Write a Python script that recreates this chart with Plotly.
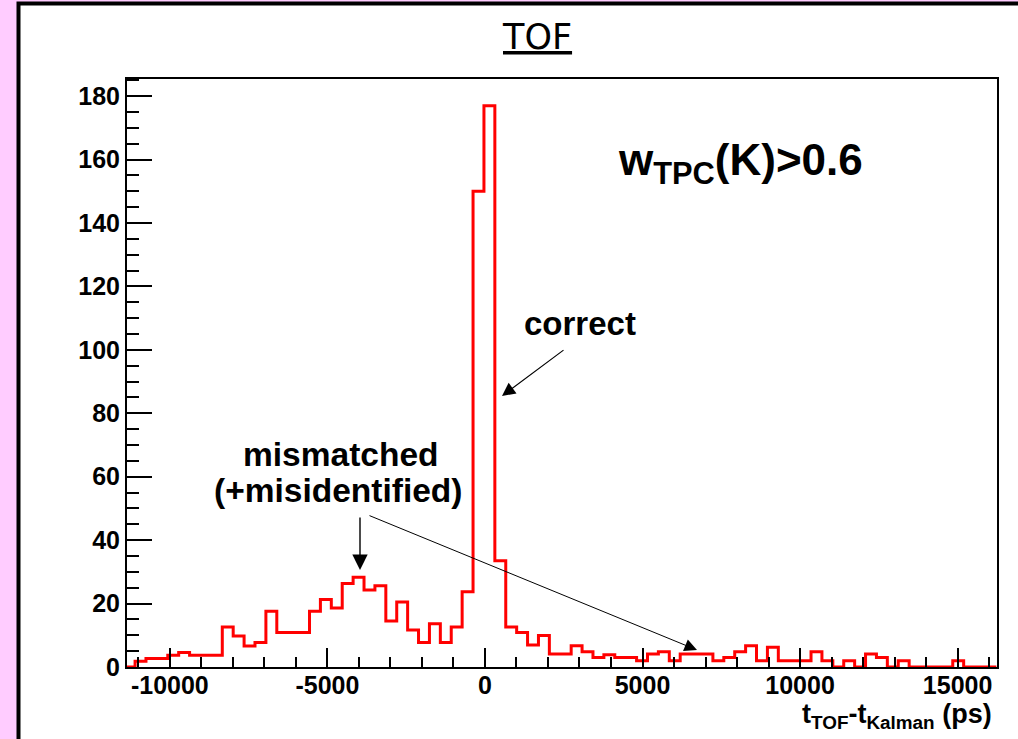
import plotly.graph_objects as go

# ---- data ----
counts = [0, 1.8, 2.7, 2.7, 3.7, 4.6, 3.7, 3.7, 3.7, 12.6,
          9.8, 6.6, 7.7, 17.6, 10.9, 10.9, 10.9, 17.6, 21.3, 18.6,
          26.3, 28.3, 24.3, 25.6, 14.5, 20.5, 11.7, 7.7, 13.6, 7.7,
          12.6, 23.7, 150, 177, 33.5, 12.6, 10.9, 6.9, 9.9, 4.1,
          4.1, 6.7, 4.8, 3.0, 3.9, 3.0, 3.0, 2.0, 4.1, 4.8,
          2.0, 4.1, 4.1, 4.1, 2.0, 3.0, 4.8, 6.7, 2.0, 6.2,
          2.0, 2.0, 2.0, 4.8, 2.0, 0, 2.0, 0, 4.1, 3.0,
          0, 2.0, 0, 0, 0, 0, 2.0, 0, 0, 0]
bin_start = -11450
bin_width = 346
x_ticks = [-10000, -5000, 0, 5000, 10000, 15000]
y_ticks = [0, 20, 40, 60, 80, 100, 120, 140, 160, 180]

edges = [bin_start + i * bin_width for i in range(len(counts) + 1)]
ys = counts + [counts[-1]]

W, H = 1018, 739
L, R, T, B = 127, 997, 79, 667


def px(xp):
    return (xp - L) / (R - L)


def py(yp):
    return (B - yp) / (B - T)


FONT = "Liberation Sans"

fig = go.Figure()
fig.add_trace(go.Scatter(x=edges, y=ys, mode="lines",
                         line=dict(color="#ff0000", width=3, shape="hv"),
                         hoverinfo="skip", showlegend=False))

fig.update_layout(
    width=W, height=H,
    margin=dict(l=L, r=W - R, t=T, b=H - B),
    paper_bgcolor="#ffccff",
    plot_bgcolor="rgba(0,0,0,0)",
    showlegend=False,
)

fig.update_xaxes(
    range=[-11360, 16250], tickvals=x_ticks, ticktext=[str(v) for v in x_ticks],
    ticks="inside", ticklen=19, tickwidth=1.5, tickcolor="black",
    minor=dict(dtick=1000, tick0=0, ticks="inside", ticklen=10, tickwidth=1.5, tickcolor="black"),
    showline=True, linecolor="black", linewidth=2, mirror=True,
    showgrid=False, zeroline=False, ticklabelstandoff=-5,
    tickfont=dict(family=FONT, size=25, color="black", weight="bold"),
)
fig.update_yaxes(
    range=[0, 185.4], tickvals=y_ticks, ticktext=[str(v) for v in y_ticks],
    ticks="inside", ticklen=25, tickwidth=1.5, tickcolor="black",
    minor=dict(dtick=5, tick0=0, ticks="inside", ticklen=12, tickwidth=1.5, tickcolor="black"),
    showline=True, linecolor="black", linewidth=2, mirror=True,
    showgrid=False, zeroline=False,
    tickfont=dict(family=FONT, size=25, color="black", weight="bold"),
)

# white slide panel with black frame
fig.add_shape(type="rect", xref="paper", yref="paper",
              x0=px(18.5), x1=px(1030), y0=py(760), y1=py(3.5),
              line=dict(color="black", width=4), fillcolor="white", layer="below")

ann = []
# title
ann.append(dict(text="<u>TOF</u>", x=px(537), y=py(37), xref="paper", yref="paper",
                showarrow=False, font=dict(family="DejaVu Sans", size=35, color="black"),
                xanchor="center", yanchor="middle"))
# w_TPC label
ann.append(dict(text="w<sub>TPC</sub>(K)&gt;0.6", x=px(616), y=py(163), xref="paper", yref="paper",
                showarrow=False, font=dict(family=FONT, size=44, color="black", weight="bold"),
                xanchor="left", yanchor="middle"))
# correct
ann.append(dict(text="correct", x=px(580), y=py(323), xref="paper", yref="paper",
                showarrow=False, font=dict(family=FONT, size=33, color="black", weight="bold"),
                xanchor="center", yanchor="middle"))
ann.append(dict(text="", x=px(502), y=py(396), xref="paper", yref="paper",
                ax=63, ay=-47, showarrow=True, arrowhead=2, arrowsize=2.2, arrowwidth=1.2,
                arrowcolor="black", standoff=0))
# mismatched
ann.append(dict(text="mismatched", x=px(341), y=py(454), xref="paper", yref="paper",
                showarrow=False, font=dict(family=FONT, size=33.5, color="black", weight="bold"),
                xanchor="center", yanchor="middle"))
ann.append(dict(text="(+misidentified)", x=px(338), y=py(490), xref="paper", yref="paper",
                showarrow=False, font=dict(family=FONT, size=33.5, color="black", weight="bold"),
                xanchor="center", yanchor="middle"))
ann.append(dict(text="", x=px(360), y=py(570), xref="paper", yref="paper",
                ax=0, ay=-54, showarrow=True, arrowhead=2, arrowsize=2.2, arrowwidth=1.4,
                arrowcolor="black", standoff=0))
ann.append(dict(text="", x=px(697), y=py(650), xref="paper", yref="paper",
                ax=-329, ay=-135, showarrow=True, arrowhead=2, arrowsize=2.5, arrowwidth=1.0,
                arrowcolor="black", standoff=0))
# axis title
ann.append(dict(text="t<sub>TOF</sub>-t<sub>Kalman</sub> (ps)", x=px(994), y=py(716),
                xref="paper", yref="paper", showarrow=False,
                font=dict(family=FONT, size=27, color="black", weight="bold"),
                xanchor="right", yanchor="middle"))
fig.update_layout(annotations=ann)

fig.write_html("out.html")
